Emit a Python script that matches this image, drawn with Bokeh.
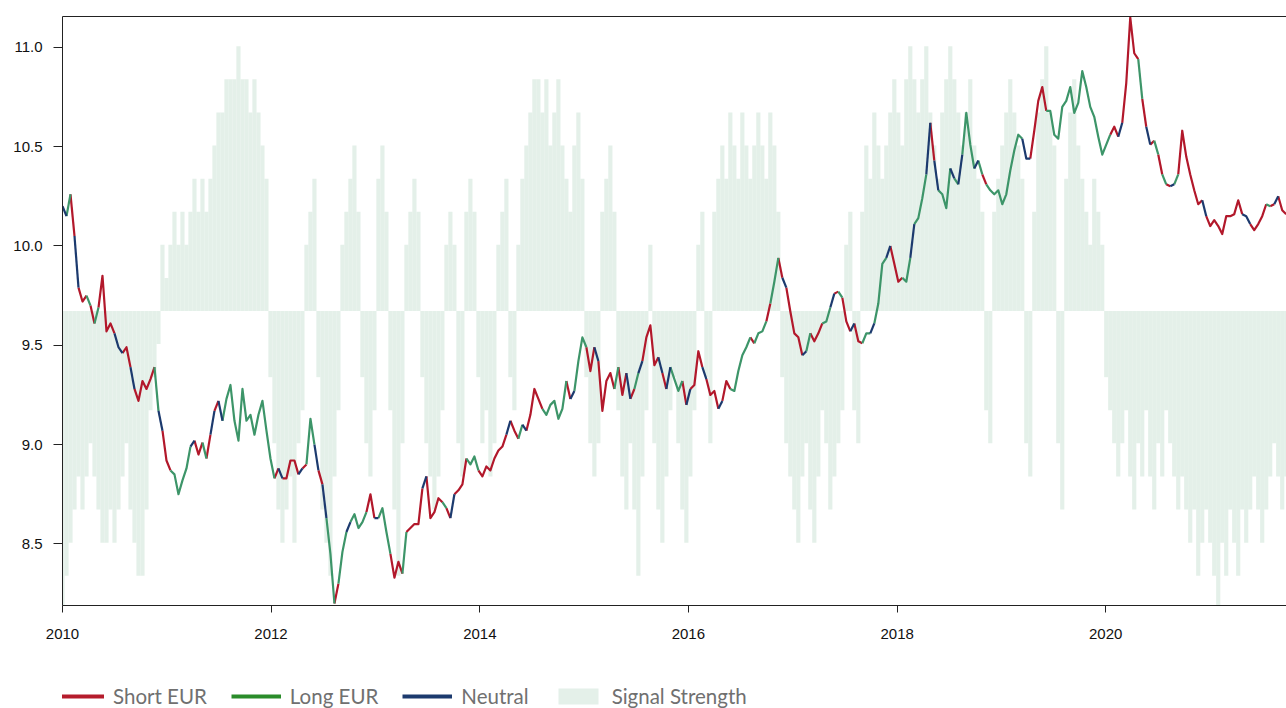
import numpy as np
import pandas as pd
from bokeh.plotting import figure
from bokeh.layouts import column
from bokeh.models import (Range1d, LinearAxis, FixedTicker, DatetimeTickFormatter,
                          NumeralTickFormatter, Legend, LegendItem)
from bokeh.embed import file_html
from bokeh.resources import INLINE

# ---------------- data (fortnightly samples from 2010-01-01) ----------------
start_date = "2010-01-01"
step = "14D"

price = [
    # 2010 - 2012
    10.20, 10.15, 10.26, 10.05, 9.79, 9.72, 9.75, 9.70, 9.61, 9.69,
    9.85, 9.57, 9.61, 9.56, 9.49, 9.46, 9.49, 9.39, 9.28, 9.22,
    9.32, 9.28, 9.33, 9.39, 9.17, 9.07, 8.92, 8.87, 8.85, 8.75,
    8.82, 8.88, 8.99, 9.02, 8.95, 9.01, 8.93, 9.05, 9.17, 9.22,
    9.12, 9.23, 9.30, 9.12, 9.02, 9.28, 9.12, 9.15, 9.05, 9.15,
    9.22, 9.07,
    # 2012 - 2014
    8.93, 8.83, 8.88, 8.83, 8.83, 8.92, 8.92, 8.85, 8.88, 8.90,
    9.13, 9.00, 8.87, 8.80, 8.63, 8.45, 8.20, 8.30, 8.46, 8.56,
    8.61, 8.65, 8.58, 8.61, 8.66, 8.75, 8.63, 8.63, 8.68, 8.56,
    8.45, 8.33, 8.41, 8.35, 8.56, 8.58, 8.60, 8.60, 8.78, 8.84,
    8.63, 8.66, 8.73, 8.71, 8.68, 8.63, 8.75, 8.77, 8.80, 8.93,
    8.90,
    # 2014 - 2016
    8.94, 8.87, 8.84, 8.89, 8.87, 8.93, 8.97, 8.99, 9.05, 9.12,
    9.07, 9.03, 9.10, 9.07, 9.15, 9.28, 9.23, 9.18, 9.15, 9.20,
    9.22, 9.13, 9.18, 9.32, 9.23, 9.27, 9.42, 9.54, 9.49, 9.37,
    9.49, 9.42, 9.17, 9.32, 9.36, 9.28, 9.39, 9.25, 9.36, 9.23,
    9.28, 9.36, 9.42, 9.54, 9.60, 9.40, 9.44, 9.36, 9.28, 9.39,
    9.33,
    # 2016 - 2018
    9.27, 9.32, 9.20, 9.28, 9.30, 9.47, 9.39, 9.33, 9.25, 9.27,
    9.18, 9.22, 9.32, 9.28, 9.27, 9.37, 9.45, 9.49, 9.54, 9.51,
    9.56, 9.57, 9.62, 9.71, 9.82, 9.94, 9.84, 9.79, 9.67, 9.56,
    9.54, 9.45, 9.47, 9.56, 9.52, 9.56, 9.61, 9.62, 9.69, 9.76,
    9.77, 9.74, 9.62, 9.57, 9.61, 9.52, 9.51, 9.56, 9.56, 9.61,
    9.71,
    # 2018 - 2020
    9.91, 9.94, 10.00, 9.91, 9.82, 9.84, 9.82, 9.94, 10.11, 10.14,
    10.24, 10.36, 10.62, 10.43, 10.28, 10.26, 10.19, 10.39, 10.34, 10.31,
    10.46, 10.67, 10.51, 10.39, 10.43, 10.36, 10.31, 10.28, 10.26, 10.28,
    10.21, 10.26, 10.38, 10.48, 10.56, 10.54, 10.44, 10.44, 10.58, 10.73,
    10.80, 10.68, 10.68, 10.56, 10.54, 10.70, 10.73, 10.80, 10.67, 10.72,
    10.88,
    # 2020 - 2021
    10.80, 10.70, 10.65, 10.55, 10.46, 10.51, 10.56, 10.60, 10.55, 10.62,
    10.82, 11.15, 10.97, 10.94, 10.74, 10.60, 10.51, 10.53, 10.46, 10.36,
    10.31, 10.30, 10.31, 10.36, 10.58, 10.45, 10.36, 10.28, 10.21, 10.23,
    10.15, 10.10, 10.13, 10.10, 10.06, 10.15, 10.15, 10.16, 10.23, 10.16,
    10.15, 10.11, 10.08, 10.11, 10.15, 10.21, 10.20, 10.21, 10.25, 10.18,
    10.16,
]

# S = Short EUR, L = Long EUR, N = Neutral
signal = list(
    # 2010 - 2012 (52)
    "NLSNSSLSLSSSSNNSSNSSSSSLNSSLLLLLNSSLSNSNLLLLLLLLLLLL"
    # 2012 - 2014 (51)
    "LSNSSSSNSLLNSNLLSLLNLLLLSSNLLLSSSLSSSSNSSSSLSNSSSLL"
    # 2014 - 2016 (51)
    "LSSSSSSSNSSLNSSSSLLLLLLSNLLLSSNSSSSLSSNSLNSSSSNSNLL"
    # 2016 - 2018 (51)
    "LSNSSSNSSSNSSLLLLLSLLLSLLSNSSSSNLSSSLLNSLSSNSSLLNLL"
    # 2018 - 2020 (51)
    "LNSSSLLNLLLNSNLLLNLNLLLNLSLLLLLLLLLNNSSSSLLLLLLLLLL"
    # 2020 - 2021 (51)
    "LLLLLLSSNSSSSLSNSLSLSNLSSSSSSNSSSSSSSSSNNSSSSLSNSSL"
)

# signal strength: net score on a -9 ... +9 scale
strength = [
    # 2010 - 2012
    -9, -8, -7, -6, -5, -6, -5, -4, -5, -6,
    -7, -7, -6, -7, -6, -5, -4, -6, -7, -8,
    -8, -6, -3, -2, -1, 2, 1, 2, 3, 2,
    3, 2, 3, 4, 3, 4, 3, 4, 5, 6,
    6, 7, 7, 7, 8, 7, 7, 6, 7, 6,
    5, 4,
    # 2012 - 2014
    -2, -4, -6, -7, -6, -5, -7, -4, -3, 2,
    3, 4, -2, -6, -7, -8, -5, -3, 2, 3,
    4, 5, 3, -2, -4, -5, -3, 4, 5, 3,
    -3, -6, -8, -4, 2, 3, 4, 3, -2, -4,
    -5, -6, -5, -3, 2, 3, 2, -4, -5, 3,
    4,
    # 2014 - 2016
    3, -2, -4, -3, -5, -4, 2, 3, 4, -2,
    -3, 2, 4, 5, 6, 7, 7, 6, 7, 5,
    6, 7, 5, 4, 3, 5, 6, 4, -2, -4,
    -5, -4, 3, 4, 5, 3, -3, -5, -6, -4,
    -6, -8, -5, -3, 2, -4, -6, -7, -5, -3,
    -2,
    # 2016 - 2018
    -4, -6, -7, -5, -3, 2, 3, -2, -4, 3,
    4, 5, 4, 6, 5, 4, 6, 5, 4, 5,
    6, 5, 4, 6, 5, 3, -2, -4, -5, -6,
    -7, -5, -4, -6, -7, -5, -3, -4, -6, -5,
    -4, -3, 2, 3, -3, -4, 3, 5, 4, 6,
    5,
    # 2018 - 2020
    4, 5, 6, 7, 6, 5, 7, 8, 7, 6,
    7, 8, 6, 5, 4, 6, 7, 8, 7, 6,
    5, 6, 7, 5, 4, 3, -3, -4, 3, 4,
    5, 6, 7, 6, 5, 4, -4, -5, 3, 6,
    7, 8, 6, 5, -4, -6, 4, 6, 7, 5,
    4,
    # 2020 - 2021
    3, 2, 4, 3, 2, -2, -3, -4, -5, -4,
    -3, -5, -6, -4, -5, -3, -5, -6, -4, -5,
    -3, -4, -5, -6, -5, -6, -7, -6, -8, -7,
    -6, -7, -8, -9, -7, -8, -6, -7, -8, -6,
    -7, -6, -5, -6, -7, -6, -5, -4, -5, -6,
    -5,
]

y_ticks = [8.5, 9.0, 9.5, 10.0, 10.5, 11.0]
x_tick_years = [2010, 2012, 2014, 2016, 2018, 2020]
series_labels = {"S": "Short EUR", "L": "Long EUR", "N": "Neutral"}
strength_label = "Signal Strength"

# ---------------- styling ----------------
line_colors = {"S": "#b2182b", "L": "#3d9569", "N": "#1c3a6e"}
legend_colors = {"S": "#b51c2c", "L": "#2a8c2a", "N": "#1c3a6e"}
bar_color = "#e4f0e9"

n = min(len(price), len(signal), len(strength))
dates = pd.date_range(start_date, periods=n, freq=step)
price = price[:n]
signal = signal[:n]
strength = strength[:n]

x_start = pd.Timestamp(start_date)
x_end = dates[-1] + pd.Timedelta(days=1)

p = figure(width=1286, height=680, x_axis_type="datetime",
           x_range=Range1d(x_start, x_end), y_range=Range1d(8.19, 11.155),
           output_backend="svg", toolbar_location=None,
           min_border_left=62, min_border_right=0, min_border_top=16,
           min_border_bottom=75)
p.extra_y_ranges = {"sig": Range1d(-8.9, 8.9)}
p.outline_line_color = None
p.xgrid.grid_line_color = None
p.ygrid.grid_line_color = None
p.background_fill_color = "white"
p.border_fill_color = "white"

# signal strength bars
p.vbar(x=dates, top=strength, bottom=0,
       width=pd.Timedelta(days=14.6).total_seconds() * 1000,
       y_range_name="sig", fill_color=bar_color, line_color=None)

# coloured price line, split into runs of equal signal
runs = {"S": ([], []), "L": ([], []), "N": ([], [])}
i = 0
while i < n - 1:
    j = i
    while j + 1 < n - 1 and signal[j + 1] == signal[i]:
        j += 1
    runs[signal[i]][0].append(list(dates[i:j + 2]))
    runs[signal[i]][1].append(price[i:j + 2])
    i = j + 1
for key, (xs, ys) in runs.items():
    p.multi_line(xs=xs, ys=ys, line_color=line_colors[key], line_width=2.2,
                 line_join="round")

# axes
p.yaxis.ticker = FixedTicker(ticks=y_ticks)
p.yaxis.formatter = NumeralTickFormatter(format="0.0")
p.xaxis.ticker = FixedTicker(ticks=[pd.Timestamp(f"{y}-01-01").value / 1e6 for y in x_tick_years])
p.xaxis.formatter = DatetimeTickFormatter(years="%Y", months="%Y", days="%Y", hours="%Y")
for ax in (p.xaxis[0], p.yaxis[0]):
    ax.axis_line_color = "#222222"
    ax.major_tick_line_color = "#222222"
    ax.minor_tick_line_color = None
    ax.major_tick_in = 0
    ax.major_label_text_font = "Liberation Sans"
    ax.major_label_text_font_size = "15px"
    ax.major_label_text_color = "#111111"
p.yaxis.major_tick_out = 9
p.yaxis.major_label_standoff = 11
p.xaxis.major_tick_out = 7
p.xaxis.major_label_standoff = 16

# top frame line: an unlabelled axis with no ticks
top_axis = LinearAxis(ticker=FixedTicker(ticks=[]), axis_line_color="#222222",
                      major_tick_line_color=None, minor_tick_line_color=None,
                      major_tick_out=0, major_tick_in=0, major_label_standoff=0)
p.add_layout(top_axis, "above")

# ---------------- legend strip below the chart ----------------
leg = figure(width=1286, height=28, output_backend="svg", toolbar_location=None,
             x_range=Range1d(0, 1), y_range=Range1d(0, 1),
             x_axis_location=None, y_axis_location=None,
             min_border=0, min_border_left=0, min_border_right=0,
             min_border_top=0, min_border_bottom=0)
leg.outline_line_color = None
leg.xgrid.grid_line_color = None
leg.ygrid.grid_line_color = None

nan = float("nan")
items = []
for key in ["S", "L", "N"]:
    r = leg.line(x=[nan], y=[nan], line_color=legend_colors[key], line_width=4)
    items.append(LegendItem(label=series_labels[key], renderers=[r]))
rb = leg.vbar(x=[nan], top=[nan], width=1, fill_color=bar_color, line_color=None)
items.append(LegendItem(label=strength_label, renderers=[rb]))

legend = Legend(items=items, orientation="horizontal", location=(-8, 0),
                label_text_font="Lato", label_text_font_size="20.5px",
                label_text_color="#707070", glyph_width=50, glyph_height=20,
                label_standoff=9, spacing=24, padding=0, margin=0,
                border_line_color=None, background_fill_alpha=0)
leg.add_layout(legend, "center")

layout = column(p, leg, spacing=0)
open("out.html", "w").write(file_html(layout, INLINE))
